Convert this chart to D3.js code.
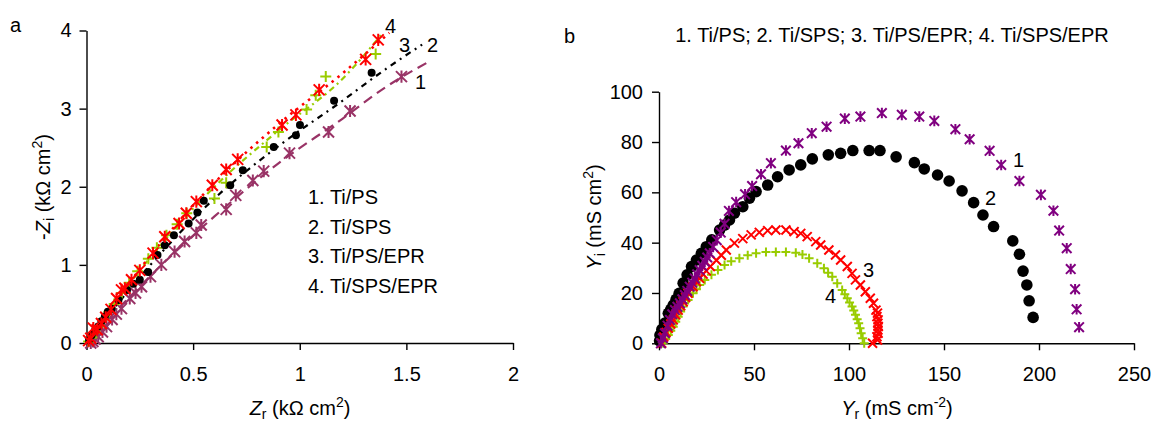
<!DOCTYPE html>
<html>
<head>
<meta charset="utf-8">
<script src="https://cdn.jsdelivr.net/npm/d3@7"></script>
<style>
  body { margin: 0; background: #fff; }
  svg { display: block; }
  text { font-family: "Liberation Sans", Arial, Helvetica, sans-serif; fill: #000; }
</style>
</head>
<body>
<svg id="chart" width="1152" height="423"></svg>
<script>
// ---------- Panel a: Nyquist plots, Zr vs -Zi (kΩ cm²) ----------
const seriesNames = ["1. Ti/PS", "2. Ti/SPS", "3. Ti/PS/EPR", "4. Ti/SPS/EPR"];

const nyqTiPS = [[0.02,0.0],[0.03,0.02],[0.04,0.05],[0.055,0.08],[0.075,0.14],[0.094,0.21],[0.12,0.30],[0.14,0.37],[0.164,0.44],[0.203,0.57],[0.23,0.64],[0.258,0.72],[0.30,0.85],[0.351,1.0],[0.413,1.17],[0.46,1.3],[0.515,1.41],[0.538,1.51],[0.655,1.71],[0.70,1.89],[0.78,2.08],[0.831,2.20],[0.952,2.43],[1.135,2.70],[1.236,2.97],[1.477,3.41]];
const nyqTiSPS = [[0.012,0.04],[0.024,0.10],[0.04,0.16],[0.055,0.21],[0.07,0.28],[0.086,0.34],[0.10,0.40],[0.118,0.44],[0.15,0.55],[0.19,0.68],[0.22,0.76],[0.25,0.81],[0.289,0.91],[0.333,1.125],[0.367,1.25],[0.41,1.38],[0.479,1.53],[0.52,1.67],[0.55,1.82],[0.674,2.02],[0.733,2.21],[0.878,2.51],[0.982,2.66],[1.001,2.79],[1.161,3.10],[1.337,3.46]];
const nyqTiPSEPR = [[0.01,0.02],[0.025,0.07],[0.04,0.13],[0.06,0.21],[0.08,0.30],[0.105,0.40],[0.13,0.50],[0.165,0.64],[0.20,0.77],[0.24,0.92],[0.29,1.08],[0.33,1.22],[0.375,1.38],[0.425,1.52],[0.47,1.66],[0.60,1.85],[0.655,2.05],[0.845,2.51],[0.90,2.70],[1.032,2.99],[1.075,3.17],[1.122,3.41],[1.356,3.70]];
const nyqTiSPSEPR = [[0.01,0.03],[0.02,0.06],[0.032,0.19],[0.05,0.17],[0.07,0.25],[0.09,0.33],[0.115,0.43],[0.141,0.57],[0.164,0.68],[0.18,0.70],[0.211,0.81],[0.25,0.93],[0.312,1.15],[0.367,1.36],[0.434,1.53],[0.468,1.66],[0.515,1.81],[0.59,2.02],[0.655,2.22],[0.709,2.35],[0.917,2.79],[0.982,2.92],[1.091,3.24],[1.309,3.63],[1.368,3.88]];

// fitted curves (dashed lines)
const fitTiPS = [[0,0],[0.3,0.86],[0.6,1.62],[0.9,2.30],[1.2,2.87],[1.4,3.27],[1.605,3.60]];
const fitTiSPS = [[0,0],[0.3,1.0],[0.6,1.85],[0.9,2.52],[1.2,3.10],[1.4,3.50],[1.574,3.82]];
const fitTiPSEPR = [[0,0],[0.3,1.10],[0.6,2.0],[0.9,2.72],[1.2,3.38],[1.39,3.97]];
const fitTiSPSEPR = [[0,0],[0.3,1.12],[0.6,2.05],[0.9,2.80],[1.2,3.45],[1.42,3.97]];

const axisATicksX = [0, 0.5, 1, 1.5, 2];
const axisATicksY = [0, 1, 2, 3, 4];

// ---------- Panel b: admittance plots, Yr vs Yi (mS cm²) ----------
const admTiPS = [[1,0],[2,2],[3.1,4],[4.5,7],[5.8,9.3],[7,11.5],[8.4,13.2],[9.7,14.5],[11,15.9],[12.3,17.5],[13.6,19.2],[14.9,20.8],[16.2,22.5],[17.5,24.1],[18.8,25.8],[20.1,27.4],[21.4,29.1],[22.8,30.8],[24.1,32.4],[25.4,34.1],[26.7,35.8],[28.5,38.3],[30.4,41],[32.5,44],[34.5,47.5],[36.8,52.6],[40.6,56.1],[45.3,59.2],[49,62.5],[53.7,67.2],[58.9,71.6],[66.8,76.6],[73.4,79.5],[80.4,83.5],[88.2,86.1],[97.8,89.3],[106,90.1],[117.3,91.5],[127.8,90.8],[137,90.1],[144.9,88.4],[156,85.1],[163.5,81.1],[174,76.5],[180.1,70.9],[189.7,64.5],[201,59],[207.6,52.7],[210.6,44.8],[214.6,37.8],[216.7,29.5],[219,21.5],[219.8,13.5],[221.1,6.4]];
const admTiSPS = [[0.3,1],[0.5,3.3],[1.5,5.5],[3.1,8],[4.9,11.9],[6.2,13.5],[7.5,15.2],[9,17.5],[10.6,19.9],[12.7,23.9],[14.8,27.2],[17.1,30.5],[19.7,33.1],[22.3,35.8],[24.9,38.4],[27.8,41.1],[31.9,45],[34.5,47],[37.1,49],[39.7,51.7],[44.1,54.3],[47.6,57.7],[51.1,60.3],[57.2,62.9],[62.4,66.2],[68.5,68.9],[74.6,70.9],[80.7,73.3],[89.1,74.9],[95.6,75.5],[102,76.6],[110.6,76.6],[116.3,76.6],[124.8,74.1],[134.4,71.8],[139.6,69.3],[146.6,66.9],[152.7,64.5],[159.5,60.6],[165.6,55.9],[170.5,51],[176.1,46.4],[186.2,40.7],[189.7,35.4],[191.6,28.7],[193.6,23.2],[194.8,16.9],[196.9,10.3]];
const admTiPSEPR = [[1.4,0],[2.5,2.5],[3.7,4.3],[4.9,6],[6.2,7.7],[7.5,9.3],[8.8,11.3],[10.1,13.2],[11.4,14.9],[12.7,16.5],[14,18.2],[15.3,19.9],[17.9,22.5],[19.7,24.5],[21.4,25.8],[23.2,27.5],[24.9,28.8],[27,30.5],[30.2,33],[32.8,35],[35.4,37.1],[39.7,39.8],[44.1,41.6],[48.5,43.1],[52.8,44.1],[57.2,44.8],[61.5,45],[66.8,45],[71.1,44.4],[74.6,43.7],[78,42.4],[82.5,40.4],[85.1,39.1],[89.4,37.1],[92.9,35.1],[95.6,33.1],[99.1,30.5],[101.6,27.8],[103.4,25.2],[106,23.2],[108.6,20.5],[111.2,17.9],[112.9,15.9],[114.2,13.2],[115,12],[114.7,10.6],[115.3,9.3],[115.2,8],[115.4,6.7],[115.2,5.3],[115.3,4],[114.7,2.6],[115,1.3],[112.4,0]];
const admTiSPSEPR = [[2.2,0],[3.5,1.7],[4.9,3.3],[6.2,5],[7.5,6.6],[8.8,8.6],[10.1,10.6],[11.4,12.6],[12.7,14.6],[15.3,17.2],[17.9,19.9],[19.7,21.5],[21.4,23.2],[24.1,25.2],[27.6,27.2],[31,29.1],[34.5,31.1],[38,32.6],[42.3,33.8],[46.7,35],[51.1,35.8],[56.3,36.3],[61.5,36.3],[66.8,36.3],[72,36],[75.5,35.3],[79,33.8],[83.3,31.8],[86.8,29.8],[89,28],[91.2,26.5],[93.8,23.9],[96.4,21.2],[97.8,19.5],[99.1,17.9],[100.3,16.2],[101.6,14.6],[102.5,13],[103.4,11.3],[104.3,9.6],[105.1,8],[105.8,6],[106.4,4],[107.2,2],[108,0]];

const axisBTicksX = [0, 50, 100, 150, 200, 250];
const axisBTicksY = [0, 20, 40, 60, 80, 100];

const svg = d3.select("#chart");
const FS = 20;

// ---------- marker shapes ----------
function markerPath(type, s) {
  if (type === "star") return `M${-s},${-s}L${s},${s}M${-s},${s}L${s},${-s}M0,${-s*1.1}L0,${s*1.1}`;
  if (type === "times") return `M${-s},${-s}L${s},${s}M${-s},${s}L${s},${-s}`;
  if (type === "plus") return `M${-s},0L${s},0M0,${-s}L0,${s}`;
  return "";
}
function drawMarkers(g, data, x, y, type, color, size, sw) {
  if (type === "circle") {
    g.append("g").selectAll("circle").data(data).join("circle")
      .attr("cx", d => x(d[0])).attr("cy", d => y(d[1])).attr("r", size)
      .attr("fill", color);
  } else {
    g.append("g").selectAll("path").data(data).join("path")
      .attr("transform", d => `translate(${x(d[0])},${y(d[1])})`)
      .attr("d", markerPath(type, size))
      .attr("fill", "none").attr("stroke", color).attr("stroke-width", sw);
  }
}

function styleAxis(g) {
  g.selectAll(".domain").attr("stroke", "#000").attr("stroke-width", 1.4);
  g.selectAll(".tick line").attr("stroke", "#000").attr("stroke-width", 1.4);
  g.selectAll(".tick text").attr("font-size", FS).attr("font-family", '"Liberation Sans", Arial, sans-serif').attr("fill", "#000");
}

// axis title with italic symbol, subscript and superscript
function axisTitle(sel, prefix, sym, sub, unit, sup) {
  if (prefix) sel.append("tspan").text(prefix);
  sel.append("tspan").attr("font-style", "italic").text(sym);
  sel.append("tspan").attr("font-size", 14).attr("dy", 4).text(sub);
  sel.append("tspan").attr("dy", -4).text(unit);
  sel.append("tspan").attr("font-size", 14).attr("dy", -8).text(sup);
  sel.append("tspan").attr("dy", 8).text(")");
}

// ================= Panel a =================
const xA = d3.scaleLinear().domain([0, 2]).range([86.5, 513]);
const yA = d3.scaleLinear().domain([0, 4]).range([343, 30.5]);
const gA = svg.append("g");

const fmtNum = d => String(d);
const axA_x = gA.append("g").attr("transform", `translate(0,${yA(0)})`)
  .call(d3.axisBottom(xA).tickValues(axisATicksX).tickFormat(fmtNum).tickSizeInner(7).tickSizeOuter(0).tickPadding(17));
styleAxis(axA_x);
const axA_y = gA.append("g").attr("transform", `translate(${xA(0)},0)`)
  .call(d3.axisLeft(yA).tickValues(axisATicksY).tickFormat(fmtNum).tickSizeInner(7).tickSizeOuter(0).tickPadding(8));
styleAxis(axA_y);

const lineA = d3.line().x(d => xA(d[0])).y(d => yA(d[1])).curve(d3.curveMonotoneX);
const seriesA = [
  { pts: nyqTiPS, fit: fitTiPS, color: "#993366", marker: "star", size: 5.5, dash: "10,6", lw: 2.2 },
  { pts: nyqTiPSEPR, fit: fitTiPSEPR, color: "#99CC00", marker: "plus", size: 5.5, dash: "6,4,2,4", lw: 2.2 },
  { pts: nyqTiSPS, fit: fitTiSPS, color: "#000000", marker: "circle", size: 4, dash: "6,5,2,5", lw: 2.2 },
  { pts: nyqTiSPSEPR, fit: fitTiSPSEPR, color: "#FF0000", marker: "star", size: 5.5, dash: "2.5,5", lw: 2.6 }
];
seriesA.forEach(s => {
  gA.append("path").datum(s.fit).attr("d", lineA)
    .attr("fill", "none").attr("stroke", s.color).attr("stroke-width", s.lw)
    .attr("stroke-dasharray", s.dash);
});
seriesA.forEach(s => drawMarkers(gA, s.pts, xA, yA, s.marker, s.color, s.size, 2));

// curve numbers
const labelsA = [["4", 385, 33], ["3", 399, 52], ["2", 427, 52], ["1", 415, 89]];
gA.append("g").selectAll("text").data(labelsA).join("text")
  .attr("x", d => d[1]).attr("y", d => d[2]).attr("font-size", FS).text(d => d[0]);

// legend
gA.append("g").selectAll("text").data(seriesNames).join("text")
  .attr("x", 308).attr("y", (d, i) => 204 + i * 29.5).attr("font-size", FS).text(d => d);

// axis titles
axisTitle(gA.append("text").attr("x", 300).attr("y", 415).attr("text-anchor", "middle").attr("font-size", FS),
  "", "Z", "r", " (kΩ cm", "2");
axisTitle(gA.append("text").attr("transform", "translate(50,187) rotate(-90)").attr("text-anchor", "middle").attr("font-size", FS),
  "-", "Z", "i", " (kΩ cm", "2");

svg.append("text").attr("x", 10).attr("y", 32).attr("font-size", FS).text("a");

// ================= Panel b =================
const xB = d3.scaleLinear().domain([0, 250]).range([659, 1134]);
const yB = d3.scaleLinear().domain([0, 100]).range([343.3, 91.7]);
const gB = svg.append("g");

const axB_x = gB.append("g").attr("transform", `translate(0,${yB(0)})`)
  .call(d3.axisBottom(xB).tickValues(axisBTicksX).tickFormat(fmtNum).tickSizeInner(7).tickSizeOuter(0).tickPadding(17));
styleAxis(axB_x);
const axB_y = gB.append("g").attr("transform", `translate(${xB(0)},0)`)
  .call(d3.axisLeft(yB).tickValues(axisBTicksY).tickFormat(fmtNum).tickSizeInner(7).tickSizeOuter(0).tickPadding(9));
styleAxis(axB_y);

const seriesB = [
  { pts: admTiSPS, color: "#000000", marker: "circle", size: 5.8 },
  { pts: admTiSPSEPR, color: "#99CC00", marker: "plus", size: 4.5 },
  { pts: admTiPSEPR, color: "#FF0000", marker: "times", size: 4.5 },
  { pts: admTiPS, color: "#800080", marker: "star", size: 4.8 }
];
seriesB.forEach(s => drawMarkers(gB, s.pts, xB, yB, s.marker, s.color, s.size, 2));

const labelsB = [["1", 1013, 167], ["2", 985, 205], ["3", 863, 277], ["4", 825, 303]];
gB.append("g").selectAll("text").data(labelsB).join("text")
  .attr("x", d => d[1]).attr("y", d => d[2]).attr("font-size", FS).text(d => d[0]);

gB.append("text").attr("x", 892).attr("y", 42).attr("text-anchor", "middle").attr("font-size", FS)
  .text(seriesNames.join("; "));

axisTitle(gB.append("text").attr("x", 897).attr("y", 415).attr("text-anchor", "middle").attr("font-size", FS),
  "", "Y", "r", " (mS cm", "-2");
axisTitle(gB.append("text").attr("transform", "translate(601,217) rotate(-90)").attr("text-anchor", "middle").attr("font-size", FS),
  "", "Y", "i", " (mS cm", "2");

svg.append("text").attr("x", 564).attr("y", 43).attr("font-size", FS).text("b");
</script>
</body>
</html>
